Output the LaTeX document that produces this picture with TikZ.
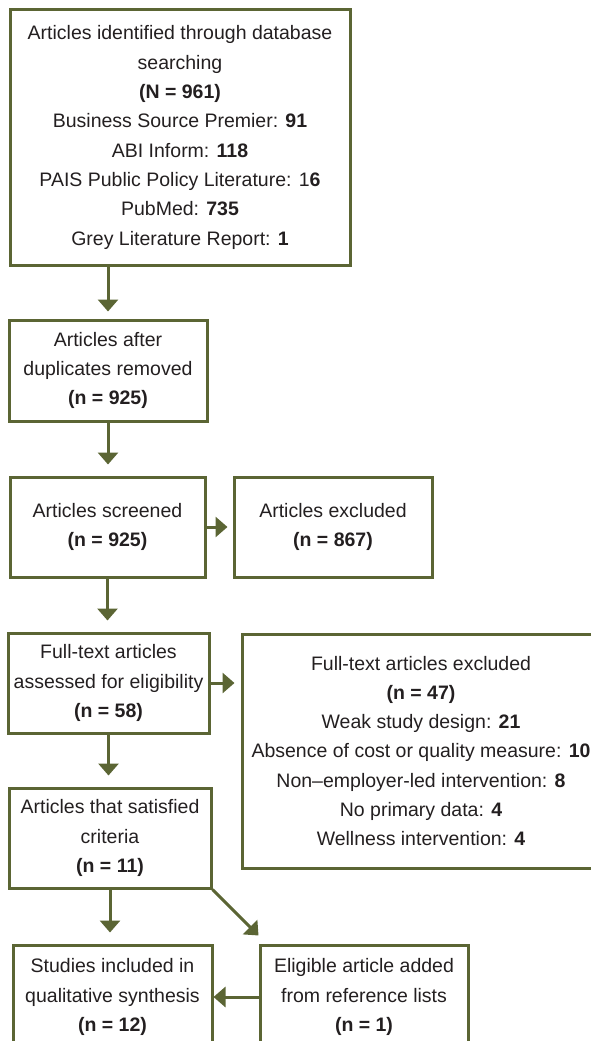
\documentclass[tikz,border=0pt]{standalone}
\usepackage{fontspec}
\setmainfont{Liberation Sans}
\usetikzlibrary{arrows.meta,calc}
\definecolor{prismagreen}{HTML}{5B6534}
\definecolor{txt}{HTML}{231F20}

\begin{document}
\begin{tikzpicture}[x=1pt,y=-1pt]
\tikzstyle{box}=[rectangle,draw=prismagreen,line width=3pt,text=txt,align=center,inner sep=0pt,font=\fontsize{19.5}{29.3}\selectfont]
\tikzstyle{arr}=[draw=prismagreen,line width=3pt,-{Triangle[width=20pt,length=12pt]}]
\useasboundingbox (0,0) rectangle (591,1041);
\clip (0,0) rectangle (591,1041);
% boxes
\node[box,minimum width=340pt,minimum height=255pt] (ident) at (180,137.5)
 {Articles identified through database\\searching\\\textbf{(N = 961)}\\
  Business Source Premier: \textbf{91}\\ABI Inform: \textbf{118}\\
  PAIS Public Policy Literature: 1\textbf{6}\\PubMed: \textbf{735}\\
  Grey Literature Report: \textbf{1}};
\node[box,minimum width=198pt,minimum height=101pt] (dup) at (108,370.5)
 {Articles after\\duplicates removed\\\textbf{(n = 925)}};
\node[box,minimum width=195pt,minimum height=100pt] (scr) at (107.5,527)
 {Articles screened\\\textbf{(n = 925)}};
\node[box,minimum width=198pt,minimum height=100pt] (exc) at (333,527)
 {Articles excluded\\\textbf{(n = 867)}};
\node[box,minimum width=201pt,minimum height=100pt] (ftx) at (108.5,683)
 {Full-text articles\\assessed for eligibility\\\textbf{(n = 58)}};
\node[box,minimum width=358pt,minimum height=234pt] (ftex) at (421,751)
 {Full-text articles excluded\\\textbf{(n = 47)}\\Weak study design: \textbf{21}\\
  Absence of cost or quality measure: \textbf{10}\\
  Non--employer-led intervention: \textbf{8}\\No primary data: \textbf{4}\\
  Wellness intervention: \textbf{4}};
\node[box,minimum width=202pt,minimum height=100pt] (sat) at (110,838)
 {Articles that satisfied\\criteria\\\textbf{(n = 11)}};
\node[box,minimum width=199pt,minimum height=104pt] (stud) at (112.5,997)
 {Studies included in\\qualitative synthesis\\\textbf{(n = 12)}};
\node[box,minimum width=208pt,minimum height=104pt] (elig) at (364,997)
 {Eligible article added\\from reference lists\\\textbf{(n = 1)}};
% arrows
\draw[arr,shorten >=7pt] (dup.north |- ident.south) -- (dup.north);
\draw[arr,shorten >=11pt] (dup.south) -- (dup.south |- scr.north);
\draw[arr,shorten >=11pt] (scr.south) -- (scr.south |- ftx.north);
\draw[arr,shorten >=11pt] (ftx.south) -- (ftx.south |- sat.north);
\draw[arr,shorten >=11pt] (sat.south) -- (sat.south |- stud.north);
\draw[arr,shorten >=5pt] (scr.east) -- (exc.west);
\draw[arr,shorten >=6pt] (ftx.east) -- (ftx.east -| ftex.west);
\draw[arr] (sat.south east) -- ($(elig.north west)+(0,-8)$);
\draw[arr] (elig.west) -- (stud.east);
\end{tikzpicture}
\end{document}
